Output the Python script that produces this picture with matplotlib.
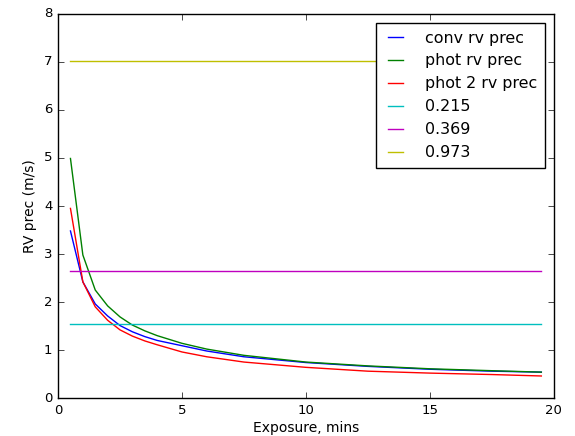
import numpy as np
import matplotlib
matplotlib.use('Agg')
import matplotlib.pyplot as plt

# exposure times (mins) and RV precision
exposure = [0.5, 1.0, 1.5, 2.0, 2.5, 3.0, 3.5, 4.0, 5.0, 6.0, 7.5, 10.0, 12.5, 15.0, 17.5, 19.5]
conv_prec = [3.48, 2.42, 1.96, 1.71, 1.51, 1.38, 1.28, 1.20, 1.09, 0.98, 0.86, 0.74, 0.66, 0.60, 0.56, 0.54]
phot_prec = [4.99, 2.98, 2.25, 1.92, 1.69, 1.52, 1.40, 1.30, 1.14, 1.02, 0.89, 0.75, 0.67, 0.61, 0.57, 0.54]
phot2_prec = [3.95, 2.42, 1.90, 1.62, 1.42, 1.29, 1.19, 1.11, 0.96, 0.86, 0.75, 0.64, 0.56, 0.52, 0.49, 0.46]

# horizontal reference levels
level_labels = ['0.215', '0.369', '0.973']
level_values = [1.54, 2.65, 7.03]
level_colors = ['c', 'm', 'y']

plt.style.use('classic')
plt.rcParams['font.size'] = 10
plt.rcParams['figure.facecolor'] = 'white'
plt.rcParams['savefig.facecolor'] = 'white'

fig = plt.figure(figsize=(5.75, 4.36), dpi=100)
ax = fig.add_axes([0.101, 0.087, 0.862, 0.881])

ax.plot(exposure, conv_prec, color='b', lw=1, label='conv rv prec')
ax.plot(exposure, phot_prec, color='g', lw=1, label='phot rv prec')
ax.plot(exposure, phot2_prec, color='r', lw=1, label='phot 2 rv prec')
for lab, val, col in zip(level_labels, level_values, level_colors):
    ax.plot([exposure[0], exposure[-1]], [val, val], color=col, lw=1, label=lab)

ax.set_xlim(0, 20)
ax.set_ylim(0, 8)
ax.tick_params(labelsize=9.5)
ax.set_xlabel('Exposure, mins', labelpad=3)
ax.set_ylabel('RV prec (m/s)')
ax.legend(loc='upper right', fontsize=11.4, handlelength=1.5, handletextpad=1.1,
          labelspacing=0.5, borderpad=0.5, borderaxespad=0.55)

fig.savefig('out.png', dpi=100)
